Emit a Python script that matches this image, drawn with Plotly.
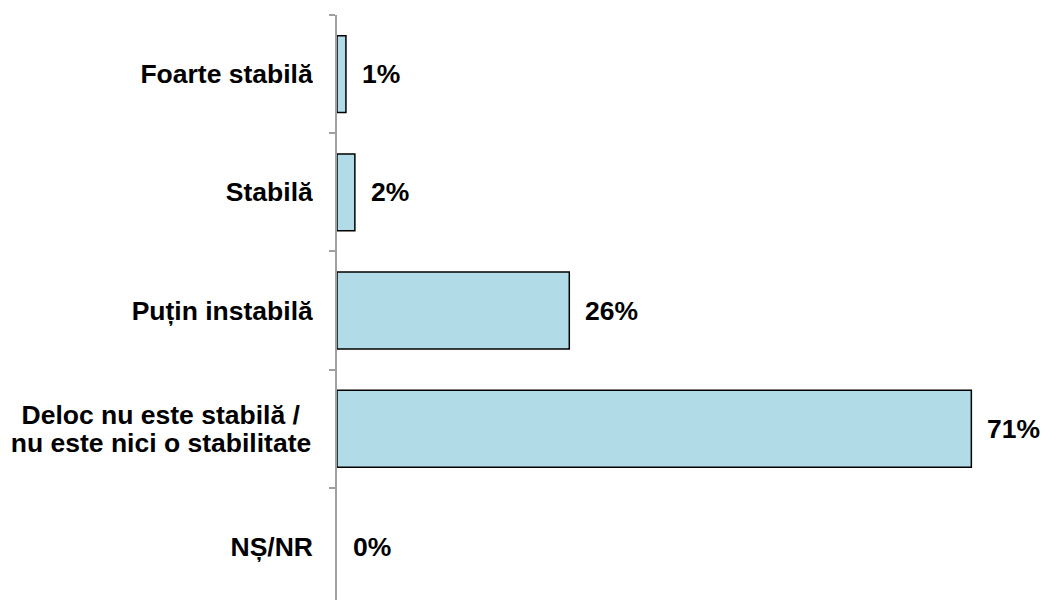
import plotly.graph_objects as go

# Survey answers, top to bottom, with their shares in percent
categories = [
    "Foarte stabilă",
    "Stabilă",
    "Puțin instabilă",
    "Deloc nu este stabilă /\nnu este nici o stabilitate",
    "NȘ/NR",
]
values = [1, 2, 26, 71, 0]
value_labels = ["1%", "2%", "26%", "71%", "0%"]

FONT = "Liberation Sans, Arial, sans-serif"
FSIZE = 26.5
LINE_STEP = 28    # px between lines of a wrapped category label
LABEL_BOX = 304   # width of the box that category labels are aligned in

fig = go.Figure(
    go.Bar(
        x=values,
        y=categories,
        orientation="h",
        width=0.65,
        marker=dict(
            color="#B1DCE7",
            line=dict(color="#000000", width=[1.5 if v > 0 else 0 for v in values]),
        ),
        hoverinfo="skip",
    )
)

# Value labels placed just past the end of each bar
for cat, val, lab in zip(categories, values, value_labels):
    fig.add_annotation(
        x=val, y=cat, text=f"<b>{lab}</b>", showarrow=False,
        xanchor="left", yanchor="middle", xshift=14,
        font=dict(family=FONT, size=FSIZE, color="#000000"),
    )

# Category labels drawn left of the axis, one annotation per text line;
# wrapped labels are centred within the label box, single lines right-aligned
for cat in categories:
    lines = cat.split("\n")
    n = len(lines)
    for i, line in enumerate(lines):
        fig.add_annotation(
            x=0, xref="paper", y=cat, text=f"<b>{line}</b>", showarrow=False,
            xanchor="right", yanchor="middle", xshift=-22,
            width=LABEL_BOX, align="center" if n > 1 else "right",
            yshift=((n - 1) / 2 - i) * LINE_STEP,
            font=dict(family=FONT, size=FSIZE, color="#000000"),
        )

fig.update_layout(
    width=1043, height=600,
    margin=dict(l=337, r=10, t=15, b=0),
    paper_bgcolor="white", plot_bgcolor="white",
    showlegend=False,
    xaxis=dict(range=[0, 77.9], visible=False, fixedrange=True),
    yaxis=dict(
        type="category",
        categoryorder="array", categoryarray=categories,
        range=[4.449, -0.5],
        showline=True, linecolor="#A0A0A0", linewidth=2,
        ticks="outside", tickson="boundaries", ticklen=6,
        tickcolor="#A0A0A0", tickwidth=2,
        showgrid=False, zeroline=False,
        showticklabels=False,
    ),
)

fig.write_html("out.html")
